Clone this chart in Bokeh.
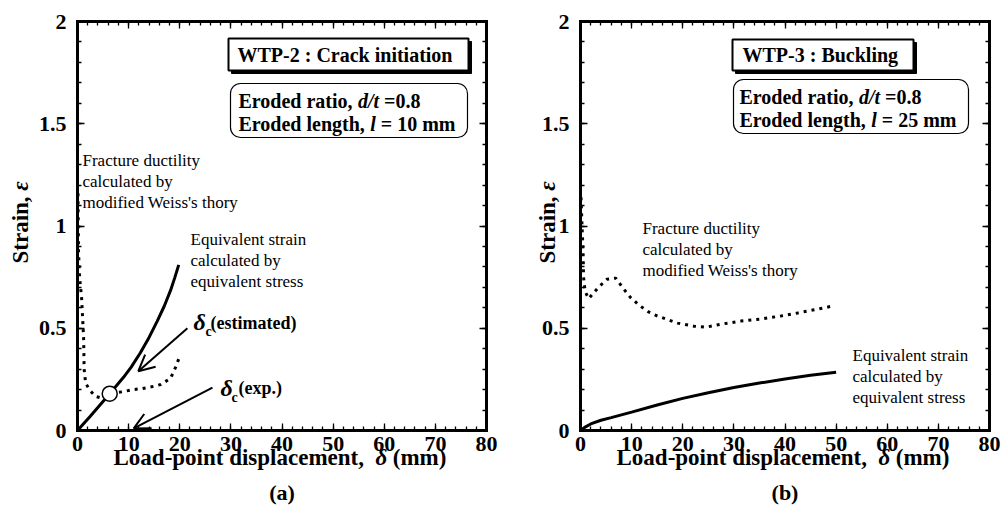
import math
from bokeh.plotting import figure
from bokeh.models import (Range1d, LinearAxis, FixedTicker, CustomJSTickFormatter,
                          Label, BoxAnnotation, Arrow, OpenHead)
from bokeh.layouts import row
from bokeh.embed import file_html
from bokeh.resources import INLINE

# ---------------- data ----------------
x_ticks = [0, 10, 20, 30, 40, 50, 60, 70, 80]
x_tick_labels = ["0", "10", "20", "30", "40", "50", "60", "70", "80"]
x_minor = [v for v in range(0, 81, 2)]
y_ticks = [0, 0.5, 1, 1.5, 2]
y_tick_labels = ["0", "0.5", "1", "1.5", "2"]
y_minor = [round(i * 0.1, 1) for i in range(0, 21)]

# (a) WTP-2 : Crack initiation
a_strain_x = [0, 2.5, 6.3, 9, 10.5, 12.3, 14, 15.6, 17, 18.2, 19, 19.8]
a_strain_y = [0, 0.07, 0.18, 0.26, 0.31, 0.38, 0.455, 0.535, 0.61, 0.685, 0.745, 0.81]
a_frac_x = [0.1, 0.15, 0.2, 0.4, 0.8, 1.0, 1.2, 1.3, 1.6, 2.5, 3.5, 4.9, 6.3,
            9, 10.8, 12.7, 14.7, 16.3, 18.2, 19.2, 19.8]
a_frac_y = [1.16, 1.0, 0.88, 0.75, 0.65, 0.55, 0.45, 0.3, 0.23, 0.195, 0.167, 0.157, 0.18,
            0.19, 0.2, 0.205, 0.215, 0.225, 0.255, 0.31, 0.35]
a_crit_x = [6.3]
a_crit_y = [0.18]

# (b) WTP-3 : Buckling
b_strain_x = [0, 1, 2, 4, 6, 10, 15, 20, 25, 30, 35, 40, 45, 50]
b_strain_y = [0, 0.018, 0.032, 0.05, 0.063, 0.09, 0.125, 0.157, 0.185, 0.21, 0.232, 0.252,
              0.27, 0.285]
b_frac_x = [0.1, 0.3, 0.5, 0.6, 0.9, 1.6, 3.5, 5.2, 6.9, 8.2, 9.8, 11.6, 13.3, 15,
            17.3, 19, 22.2, 24.5, 27.5, 31.4, 35.3, 39.2, 42.5, 45.7, 49.6]
b_frac_y = [1.14, 1.0, 0.88, 0.75, 0.68, 0.645, 0.70, 0.74, 0.745, 0.70, 0.65, 0.61, 0.58, 0.56,
            0.54, 0.525, 0.51, 0.505, 0.52, 0.535, 0.545, 0.56, 0.575, 0.59, 0.61]

# ---------------- layout helpers ----------------
FONT = "Liberation Serif"
FRAME = 409
SX = FRAME / 80.0
SY = FRAME / 2.0
Y0 = 430  # page y of strain 0
FIG_W = 502
FIG_H = 508

TB = {' ': 250, '(': 333, ')': 333, ',': 250, '-': 333, '.': 250, '/': 278, ':': 333, '=': 570,
      'B': 667, 'C': 722, 'E': 667, 'L': 667, 'P': 611, 'S': 556, 'T': 667, 'W': 1000,
      'a': 500, 'b': 556, 'c': 444, 'd': 556, 'e': 444, 'g': 500, 'h': 556, 'i': 278, 'k': 556,
      'l': 278, 'm': 833, 'n': 556, 'o': 500, 'p': 556, 'r': 444, 's': 389, 't': 333, 'u': 556,
      'x': 500, 'y': 500}
for d in "0123456789":
    TB[d] = 500
TBI = {'d': 500, '/': 278, 't': 278, 'l': 278, 'δ': 500, 'ε': 440, ' ': 250}


def width(s, table, size):
    return sum(table.get(c, 500) for c in s) * size / 1000.0


def add_text(p, X0, px, py, text, size, style="bold", align="left", angle=0.0):
    p.add_layout(Label(x=(px - X0) / SX, y=(Y0 - py) / SY, text=text,
                       text_font=FONT, text_font_size=f"{size}px", text_font_style=style,
                       text_align=align, text_baseline="middle", angle=angle,
                       text_color="black"))


def add_pieces(p, X0, px, py, parts):
    x = px
    for text, style, size, dy in parts:
        table = TBI if "italic" in style else TB
        lead = len(text) - len(text.lstrip(' '))
        xs = x + width(text[:lead], TB, size)
        add_text(p, X0, xs, py + dy, text.strip(), size, style)
        x += width(text, table, size)


def box(p, X0, l, r, t, b, radius=0, shadow=False, lw=2.0):
    if shadow:
        p.add_layout(BoxAnnotation(left=(l + 3 - X0) / SX, right=(r + 3 - X0) / SX,
                                   top=(Y0 - t - 3) / SY, bottom=(Y0 - b - 3) / SY,
                                   fill_color="black", fill_alpha=1.0, line_color="black",
                                   line_alpha=1.0, line_width=1))
    p.add_layout(BoxAnnotation(left=(l - X0) / SX, right=(r - X0) / SX,
                               top=(Y0 - t) / SY, bottom=(Y0 - b) / SY,
                               fill_color="white", fill_alpha=1.0, line_color="black",
                               line_alpha=1.0, line_width=lw, border_radius=radius))


def make_panel(X0, left_border, strain_x, strain_y, frac_x, frac_y, caption, ylab_x):
    # the frame fills the whole figure; axes are pinned at the data edges
    x_start = -left_border / SX
    x_end = 80 + (FIG_W - left_border - FRAME) / SX
    y_start = -(FIG_H - Y0) / SY
    y_end = 2 + (Y0 - FRAME) / SY
    p = figure(width=FIG_W, height=FIG_H, title=None,
               x_range=Range1d(x_start, x_end), y_range=Range1d(y_start, y_end),
               min_border=0, output_backend="svg", toolbar_location=None,
               x_axis_location=None, y_axis_location=None)
    p.grid.visible = False
    p.background_fill_color = "white"
    p.border_fill_color = "white"
    p.outline_line_color = None

    blank = CustomJSTickFormatter(code="return ''")
    for loc, fixed in (("below", 0), ("above", 2)):
        ax = LinearAxis(ticker=FixedTicker(ticks=x_ticks, minor_ticks=x_minor),
                        fixed_location=fixed, bounds=(0, 80))
        ax.major_tick_in = 7
        ax.major_tick_out = 0
        ax.minor_tick_in = 4
        ax.minor_tick_out = 0
        ax.axis_line_width = 3
        ax.axis_line_cap = "square"
        ax.major_tick_line_width = 1.3
        ax.minor_tick_line_width = 1.3
        if loc == "below":
            ax.major_label_overrides = {t: s for t, s in zip(x_ticks, x_tick_labels)}
            ax.major_label_text_font = FONT
            ax.major_label_text_font_style = "bold"
            ax.major_label_text_font_size = "22px"
            ax.major_label_text_color = "black"
            ax.major_label_standoff = 6
        else:
            ax.formatter = blank
            ax.major_label_standoff = 0
        p.add_layout(ax, loc)
    for loc, fixed in (("left", 0), ("right", 80)):
        ax = LinearAxis(ticker=FixedTicker(ticks=y_ticks, minor_ticks=y_minor),
                        fixed_location=fixed, bounds=(0, 2))
        ax.major_tick_in = 7
        ax.major_tick_out = 0
        ax.minor_tick_in = 4
        ax.minor_tick_out = 0
        ax.axis_line_width = 3
        ax.axis_line_cap = "square"
        ax.major_tick_line_width = 1.3
        ax.minor_tick_line_width = 1.3
        if loc == "left":
            ax.major_label_overrides = {float(t): s for t, s in zip(y_ticks, y_tick_labels)}
            ax.major_label_text_font = FONT
            ax.major_label_text_font_style = "bold"
            ax.major_label_text_font_size = "22px"
            ax.major_label_text_color = "black"
            ax.major_label_standoff = 11
        else:
            ax.formatter = blank
            ax.major_label_standoff = 0
        p.add_layout(ax, loc)

    # curves
    p.line(frac_x, frac_y, line_color="black", line_width=3, line_dash="3 5")
    p.line(strain_x, strain_y, line_color="black", line_width=3)

    # axis titles
    add_pieces(p, X0, X0 + 36, 457, [("Load-point displacement,", "bold", 23, 0),
                                     ("  δ", "bold italic", 23, 0),
                                     (" (mm)", "bold", 23, 0)])
    add_text(p, X0, X0 + FRAME / 2, 492, caption, 22, "bold", align="center")
    add_text(p, X0, ylab_x, 263, "Strain,", 23, "bold", angle=math.pi / 2)
    add_text(p, X0, ylab_x, 263 - width("Strain, ", TB, 23), "ε", 23, "bold italic",
             angle=math.pi / 2)
    return p


# ---------------- panel (a) ----------------
XA = 77
pa = make_panel(XA, 77, a_strain_x, a_strain_y, a_frac_x, a_frac_y, "(a)", 20)
pa.scatter(a_crit_x, a_crit_y, size=15, fill_color="white", line_color="black", line_width=1.5)

box(pa, XA, 228, 468, 38, 70, shadow=True)
add_text(pa, XA, 237, 54, "WTP-2 : Crack initiation", 20, "bold")
box(pa, XA, 230, 467, 83, 137, radius=10, lw=1.2)
add_pieces(pa, XA, 238, 100, [("Eroded ratio, ", "bold", 20, 0), ("d/t", "bold italic", 20, 0),
                              (" =0.8", "bold", 20, 0)])
add_pieces(pa, XA, 238, 123, [("Eroded length, ", "bold", 20, 0), ("l", "bold italic", 20, 0),
                              (" = 10 mm", "bold", 20, 0)])

for i, s in enumerate(["Fracture ductility", "calculated by", "modified Weiss's thory"]):
    add_text(pa, XA, 82, 160 + 21 * i, s, 17, "normal")
for i, s in enumerate(["Equivalent strain", "calculated by", "equivalent stress"]):
    add_text(pa, XA, 190, 239 + 21 * i, s, 17, "normal")

pa.add_layout(Arrow(end=OpenHead(size=16, line_width=2), x_start=21.5, y_start=0.50,
                    x_end=11.9, y_end=0.29, line_width=2))
pa.add_layout(Arrow(end=OpenHead(size=16, line_width=2), x_start=26.4, y_start=0.21,
                    x_end=11.0, y_end=0.01, line_width=2))
add_pieces(pa, XA, 193, 321, [("δ", "bold italic", 24, 0)])
add_pieces(pa, XA, 205, 331, [("c", "bold", 14, 0)])
add_pieces(pa, XA, 210, 322, [("(estimated)", "bold", 18, 0)])
add_pieces(pa, XA, 220, 387, [("δ", "bold italic", 24, 0)])
add_pieces(pa, XA, 231, 397, [("c", "bold", 14, 0)])
add_pieces(pa, XA, 238, 387, [("(exp.)", "bold", 18, 0)])

# ---------------- panel (b) ----------------
XB = 580
pb = make_panel(XB, 78, b_strain_x, b_strain_y, b_frac_x, b_frac_y, "(b)", 547)

box(pb, XB, 732, 913, 39, 70, shadow=True)
add_text(pb, XB, 742, 54.5, "WTP-3 : Buckling", 20, "bold")
box(pb, XB, 733, 968, 79, 133, radius=10, lw=1.2)
add_pieces(pb, XB, 739, 96, [("Eroded ratio, ", "bold", 20, 0), ("d/t", "bold italic", 20, 0),
                             (" =0.8", "bold", 20, 0)])
add_pieces(pb, XB, 739, 119, [("Eroded length, ", "bold", 20, 0), ("l", "bold italic", 20, 0),
                              (" = 25 mm", "bold", 20, 0)])
for i, s in enumerate(["Fracture ductility", "calculated by", "modified Weiss's thory"]):
    add_text(pb, XB, 642, 228 + 21 * i, s, 17, "normal")
for i, s in enumerate(["Equivalent strain", "calculated by", "equivalent stress"]):
    add_text(pb, XB, 852, 355 + 21 * i, s, 17, "normal")

layout = row(pa, pb)
open("out.html", "w").write(file_html(layout, INLINE))
